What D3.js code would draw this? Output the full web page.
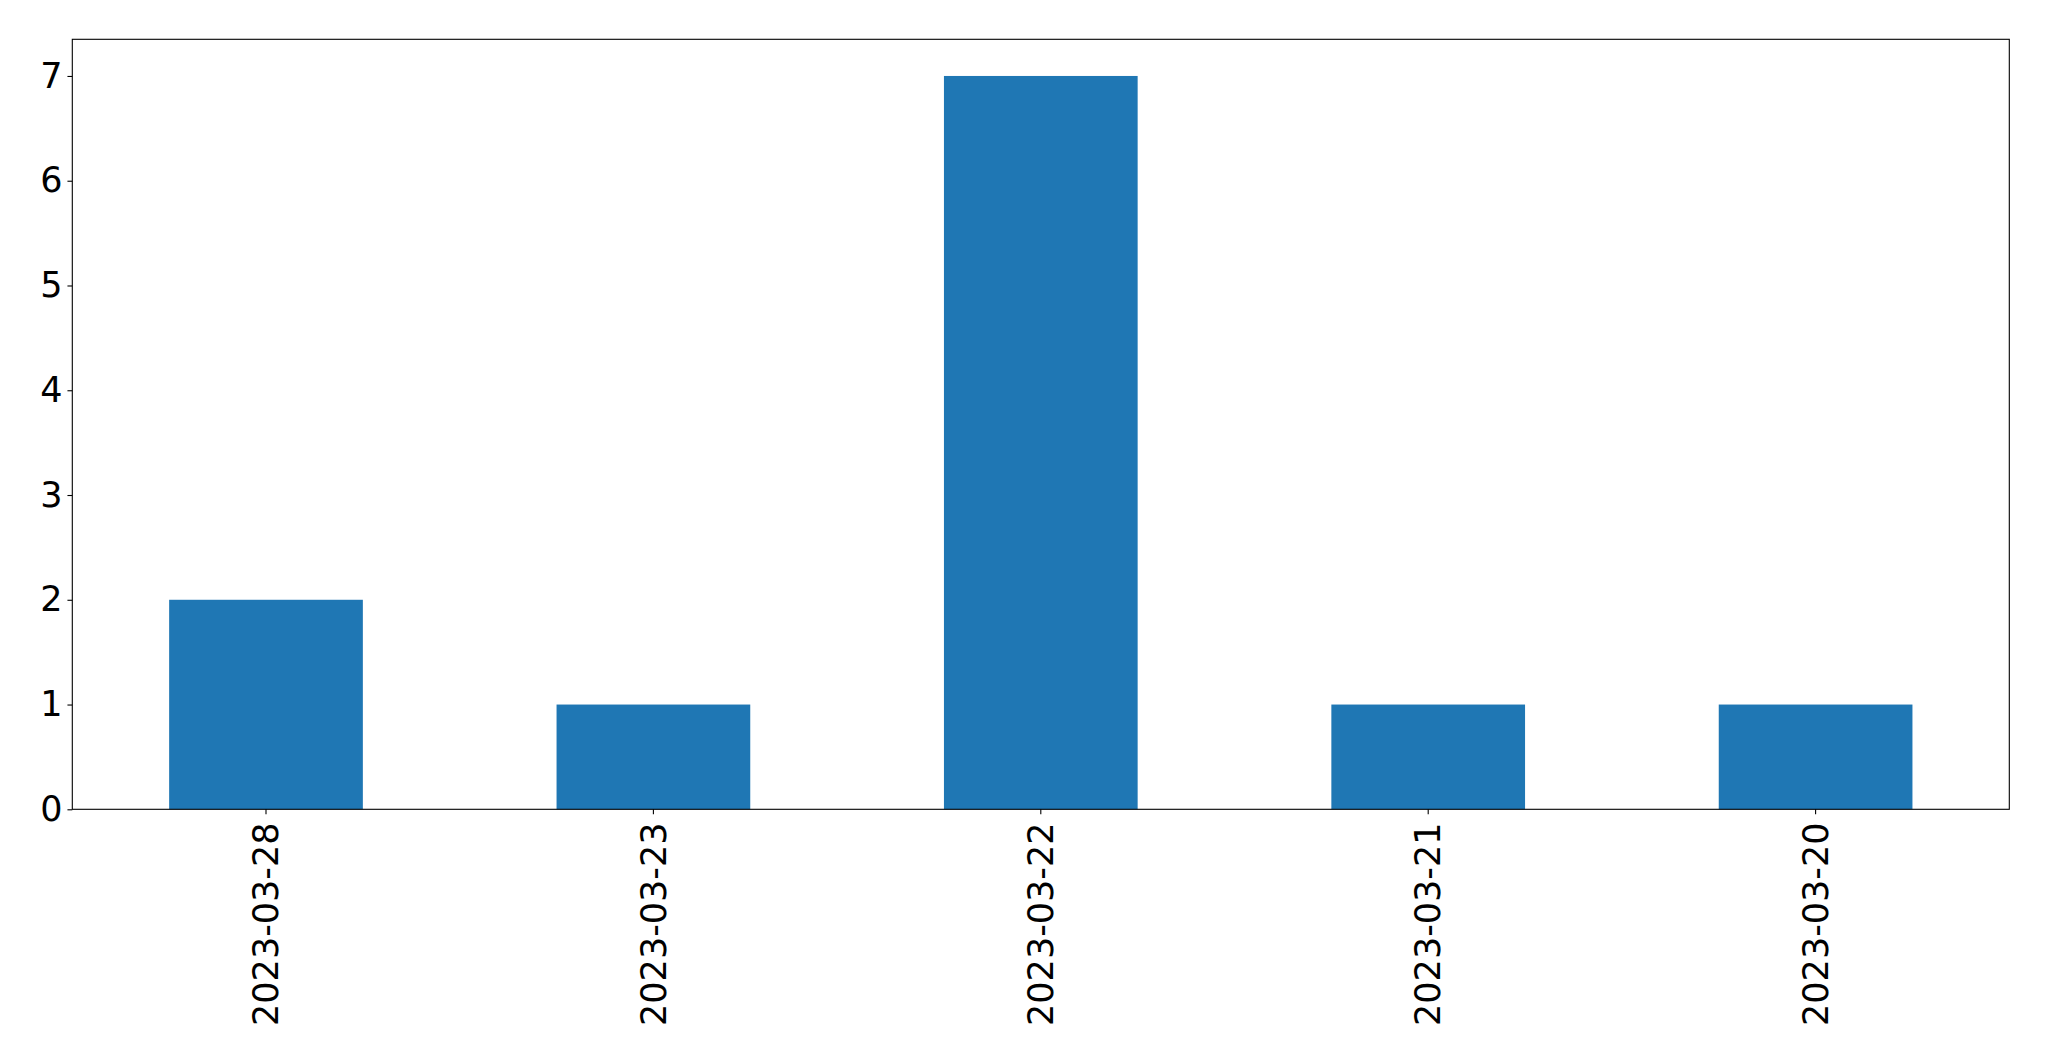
<!DOCTYPE html>
<html>
<head>
<meta charset="utf-8">
<script src="https://cdn.jsdelivr.net/npm/d3@7"></script>
<style>
  html, body { margin: 0; padding: 0; background: #fff; }
  svg { display: block; }
  text { font-family: "DejaVu Sans", sans-serif; fill: #000; }
</style>
</head>
<body>
<svg id="chart" width="2049" height="1061"></svg>
<script>
const categories = ["2023-03-28", "2023-03-23", "2023-03-22", "2023-03-21", "2023-03-20"];
const values = [2, 1, 7, 1, 1];
const yTicks = [0, 1, 2, 3, 4, 5, 6, 7];

const W = 2049, H = 1061;
const margin = { left: 72.3, right: W - 2009.3, top: 39.3, bottom: H - 809.3 };
const innerW = W - margin.left - margin.right;
const innerH = H - margin.top - margin.bottom;
const fontSize = 35;
const tickLen = 4.86, pad = 4.86;

const svg = d3.select("#chart");
const g = svg.append("g").attr("transform", `translate(${margin.left},${margin.top})`);

const x = d3.scaleBand().domain(categories).range([0, innerW]).paddingInner(0.5).paddingOuter(0.25);
const y = d3.scaleLinear().domain([0, 7.35]).range([innerH, 0]);

g.selectAll("rect.bar").data(values).enter().append("rect")
  .attr("class", "bar")
  .attr("x", (d, i) => x(categories[i]))
  .attr("width", x.bandwidth())
  .attr("y", d => y(d))
  .attr("height", d => innerH - y(d))
  .attr("fill", "#1f77b4");

// Y axis
const yAxis = g.append("g").call(d3.axisLeft(y).tickValues(yTicks).tickSize(tickLen).tickPadding(pad).tickFormat(d3.format("d")));
yAxis.select(".domain").remove();
yAxis.selectAll("line").attr("stroke", "#000").attr("stroke-width", 1.1);
yAxis.selectAll("text").attr("font-size", fontSize).attr("font-family", "DejaVu Sans").attr("fill", "#000");

// X axis
const xAxis = g.append("g").attr("transform", `translate(0,${innerH})`)
  .call(d3.axisBottom(x).tickSize(tickLen).tickPadding(pad));
xAxis.select(".domain").remove();
xAxis.selectAll("line").attr("stroke", "#000").attr("stroke-width", 1.1);
xAxis.selectAll("text")
  .attr("font-size", fontSize).attr("font-family", "DejaVu Sans").attr("fill", "#000")
  .attr("transform", "rotate(-90)")
  .attr("text-anchor", "end")
  .attr("x", -(tickLen + pad + 3.5))
  .attr("y", 0)
  .attr("dy", "0.35em");

// Frame
g.append("rect").attr("x", 0).attr("y", 0).attr("width", innerW).attr("height", innerH)
  .attr("fill", "none").attr("stroke", "#000").attr("stroke-width", 1.1);
</script>
</body>
</html>
